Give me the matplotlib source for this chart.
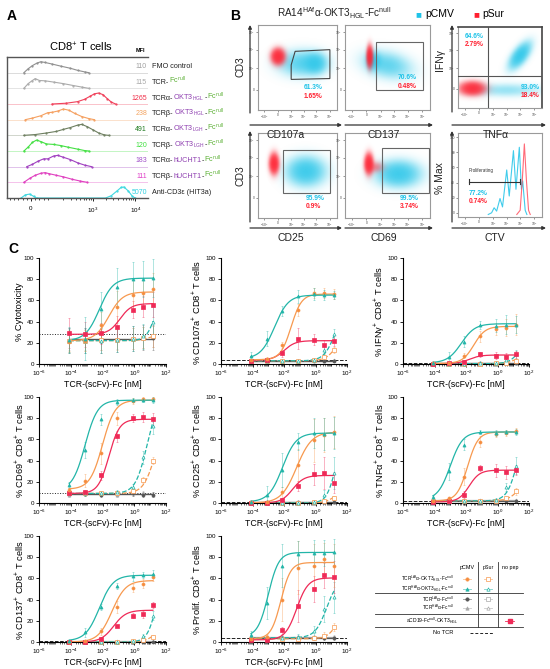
import numpy as np
import matplotlib
matplotlib.use("Agg")
import matplotlib.pyplot as plt
from matplotlib.patches import Rectangle, Polygon, FancyArrowPatch
from matplotlib.colors import to_rgb

plt.rcParams['font.family'] = ['Liberation Sans', 'DejaVu Sans']
plt.rcParams['mathtext.fontset'] = 'custom'
plt.rcParams['mathtext.rm'] = 'Liberation Sans'
plt.rcParams['mathtext.it'] = 'Liberation Sans:italic'
plt.rcParams['mathtext.bf'] = 'Liberation Sans:bold'

# ======================= DATA =======================
# ---- Panel A: histogram rows (x = position along biexponential axis 0..1, h = height in row units)
HIST_FMO    = [(0.12,0),(0.15,0.25),(0.18,0.45),(0.21,0.6),(0.24,0.7),(0.27,0.65),(0.32,0.55),(0.38,0.42),(0.45,0.28),(0.50,0.15),(0.55,0.05),(0.58,0)]
HIST_TCRFC  = [(0.12,0),(0.15,0.3),(0.18,0.5),(0.20,0.62),(0.23,0.5),(0.27,0.48),(0.33,0.4),(0.40,0.3),(0.47,0.18),(0.53,0.08),(0.58,0)]
HIST_A_HGL  = [(0.32,0),(0.42,0.05),(0.50,0.15),(0.55,0.3),(0.59,0.5),(0.62,0.65),(0.65,0.7),(0.68,0.6),(0.71,0.35),(0.74,0.12),(0.77,0)]
HIST_B_HGL  = [(0.13,0),(0.18,0.1),(0.24,0.25),(0.29,0.45),(0.32,0.47),(0.36,0.55),(0.40,0.68),(0.44,0.6),(0.48,0.4),(0.53,0.2),(0.58,0.07),(0.62,0)]
HIST_A_LGH  = [(0.12,0),(0.20,0.05),(0.28,0.15),(0.35,0.25),(0.40,0.38),(0.45,0.5),(0.50,0.65),(0.53,0.7),(0.57,0.55),(0.61,0.35),(0.65,0.15),(0.69,0.03),(0.72,0)]
HIST_B_LGH  = [(0.12,0),(0.15,0.25),(0.18,0.55),(0.21,0.7),(0.24,0.6),(0.28,0.45),(0.33,0.42),(0.38,0.35),(0.43,0.25),(0.50,0.12),(0.55,0.03),(0.58,0)]
HIST_A_UCH  = [(0.14,0),(0.18,0.15),(0.22,0.35),(0.26,0.5),(0.29,0.5),(0.33,0.68),(0.36,0.72),(0.40,0.6),(0.45,0.45),(0.50,0.25),(0.55,0.1),(0.60,0)]
HIST_B_UCH  = [(0.12,0),(0.16,0.25),(0.20,0.45),(0.24,0.58),(0.27,0.62),(0.30,0.55),(0.35,0.45),(0.40,0.35),(0.46,0.2),(0.52,0.08),(0.57,0)]
HIST_CD3E   = [(0.10,0),(0.13,0.2),(0.16,0.25),(0.19,0.1),(0.21,0),(0.70,0),(0.74,0.15),(0.78,0.45),(0.81,0.68),(0.83,0.7),(0.86,0.45),(0.89,0.1),(0.91,0)]
A_HISTS = [HIST_FMO, HIST_TCRFC, HIST_A_HGL, HIST_B_HGL, HIST_A_LGH, HIST_B_LGH, HIST_A_UCH, HIST_B_UCH, HIST_CD3E]
A_MFI = [110, 115, 1265, 238, 491, 120, 183, 111, 5070]
A_LINE_COLORS = ['#909090', '#ababab', '#f0405a', '#f5a060', '#6e7f60', '#44e044', '#a040c0', '#e040c0', '#40d8e0']
A_MFI_COLORS = ['#a0a0a0', '#a8a8a8', '#f0304a', '#f4a460', '#1e7b1e', '#40e040', '#a050c8', '#e040c8', '#30d0e0']
K, PUR, GRN = '#222222', '#8e3fb0', '#5bb033'
FCN = 'Fc$^{\\mathrm{null}}$'
A_LABELS = [
    [('FMO control', K)],
    [('TCR-', K), (FCN, GRN)],
    [('TCRα-', K), ('OKT3$_{\\mathrm{HGL}}$', PUR), ('-', K), (FCN, GRN)],
    [('TCRβ-', K), ('OKT3$_{\\mathrm{HGL}}$', PUR), ('-', K), (FCN, GRN)],
    [('TCRα-', K), ('OKT3$_{\\mathrm{LGH}}$', PUR), ('-', K), (FCN, GRN)],
    [('TCRβ-', K), ('OKT3$_{\\mathrm{LGH}}$', PUR), ('-', K), (FCN, GRN)],
    [('TCRα-', K), ('hUCHT1', PUR), ('-', K), (FCN, GRN)],
    [('TCRβ-', K), ('hUCHT1', PUR), ('-', K), (FCN, GRN)],
    [('Anti-CD3ε (HIT3a)', K)],
]

# ---- Panel B: flow clouds (cx, cy, sx, sy, angle_deg, weight) in plot fractions
B1_CYAN = [(0.55,0.55,0.17,0.09,0,0.55),(0.72,0.55,0.08,0.07,0,0.7)]
B1_RED  = [(0.25,0.63,0.05,0.055,0,1.0)]
B2_CYAN = [(0.50,0.53,0.17,0.09,-12,0.5),(0.34,0.58,0.05,0.06,0,0.6)]
B2_RED  = [(0.29,0.63,0.022,0.075,0,1.0)]
B3_CYAN = [(0.74,0.65,0.11,0.05,55,1.0),(0.58,0.22,0.25,0.05,0,0.25)]
B3_RED  = [(0.17,0.24,0.09,0.05,0,1.0)]
B4_CYAN = [(0.60,0.55,0.14,0.10,0,0.85)]
B4_RED  = [(0.20,0.64,0.035,0.07,0,1.0)]
B5_CYAN = [(0.63,0.52,0.15,0.09,0,0.85)]
B5_RED  = [(0.28,0.64,0.03,0.07,0,1.0),(0.36,0.60,0.06,0.04,0,0.2)]
B_CTV_CYAN = [(0.36,0),(0.40,0.02),(0.43,0.08),(0.46,0.04),(0.50,0.19),(0.53,0.09),(0.58,0.53),(0.61,0.22),(0.66,0.76),(0.69,0.3),(0.73,0.8),(0.755,0.3),(0.77,0.4),(0.80,0.05),(0.82,0)]
B_CTV_RED  = [(0.70,0),(0.74,0.05),(0.765,0.4),(0.79,0.84),(0.815,0.4),(0.84,0.05),(0.86,0)]
B_PCT = [('61.3%','1.65%'),('70.6%','0.48%'),('64.6%','2.79%'),('95.9%','0.9%'),('99.5%','3.74%'),('77.2%','0.74%')]
B_Q3_LOWER = ('93.0%', '18.4%')

# ---- Panel C: dose-response
CONC_NM = [8e-5, 8e-4, 8e-3, 8e-2, 0.8, 3.5, 15]
# series order: HAf-OKT3 pCMV, LAf-OKT3 pCMV, aCD19 no pep, HAf-OKT3 pSur, LAf-OKT3 pSur, LAf-Fc, HAf-Fc
CYTO = [[23,24,52,73,80,80,81],[21,22,37,54,65,67,71],[29,28,29,35,51,54,56],[22,22,22,23,24,26,40],[22,22,23,23,24,25,26],[22,22,22,23,24,25,25],[23,23,23,24,24,25,26]]
CYTO_ERR = [[12,20,16,18,16,17,18],[10,10,12,15,14,14,15],[14,12,10,10,8,10,12],[12,12,12,12,12,12,14],[10,10,10,10,10,10,10],[12,12,12,12,12,12,12],[10,10,10,10,10,10,10]]
CYTO_FIT = [[22,81,-2.2,1.0],[22,68,-1.6,1.0],[28,57,-0.9,1.2],[22,80,1.4,1.5],[22,35,1.5,1.0]]
CD107 = [[8,24,50,64,66,65,65],[4,5,18,51,67,67,66],[3,4,10,24,23,18,22],[3,3,3,3,4,13,28],[3,3,3,3,4,7,13],[3,3,3,3,3,3,3],[3,3,3,3,3.5,3,3.5]]
CD107_ERR = [[3,7,5,6,6,5,4],[1,2,3,6,5,5,5],[1,1,3,10,5,5,5],[1,1,1,1,2,4,5],[1,1,1,1,1,3,3],[1,1,1,1,1,1,1],[1,1,1,1,1,1,1]]
CD107_FIT = [[5,65,-2.6,1.0],[4,66,-1.55,1.3],[3.5,22,-2.0,1.2],[3,60,1.3,1.2],[3,40,1.5,1.2]]
IFNG = [[1,7,21,37,36,37,37],[0.5,1,8,26,33,34,37],[0.3,0.5,2,9,8,7,9],[0.3,0.3,0.3,0.5,1,4,9],[0.3,0.3,0.3,0.3,0.5,1,3],[0.5,0.5,0.5,0.5,0.5,0.5,0.5],[0.8,0.8,0.8,0.8,0.8,0.8,0.8]]
IFNG_ERR = [[1,4,5,4,6,9,8],[0.5,1,2,5,6,8,10],[0.3,0.5,1,2,3,3,3],[0.3,0.3,0.3,0.5,1,3,4],[0.3,0.3,0.3,0.3,0.5,1,2],[0.3]*7,[0.3]*7]
IFNG_FIT = [[1,38,-2.3,1.0],[0.5,35.5,-1.5,1.2],[0.3,8.5,-1.8,1.2],[0.3,30,1.5,1.3],[0.3,15,1.5,1.2]]
CD69 = [[17,50,79,95,97,97,97],[12,21,47,80,96,98,98],[9,10,26,63,80,81,79],[9,9,9,10,15,43,73],[9,9,9,9,11,22,40],[9,9,8,9,9,8,8],[8,9,9,8,9,9,8]]
CD69_ERR = [[3,8,5,3,2,2,3],[2,6,10,6,3,2,2],[2,2,4,5,4,5,6],[2,2,2,2,3,6,8],[2,2,2,2,2,3,3],[2,2,2,2,2,2,2],[2,2,2,2,2,2,2]]
CD69_FIT = [[12,97,-3.1,1.1],[13,97,-2.0,1.1],[9,79,-1.6,1.3],[9,100,0.8,1.2],[9,80,1.3,1.2]]
CD25 = [[1,8,31,58,66,65,66],[0.5,0.5,10,36,59,64,67],[0.3,0.3,3,16,27,28,19],[0.3,0.3,0.3,0.3,1,8,28],[0.3,0.3,0.3,0.3,0.5,2,5],[0.5]*7,[0.5]*7]
CD25_ERR = [[1,8,16,8,14,15,15],[0.5,1,5,15,20,16,15],[0.5,0.5,2,5,10,15,10],[0.5,0.5,0.5,0.5,1,4,15],[0.5,0.5,0.5,0.5,0.5,1,2],[0.5]*7,[0.5]*7]
CD25_FIT = [[1,66,-2.1,1.0],[0,67,-1.2,0.9],[0,26,-1.45,1.2],[0,70,1.3,1.5],[0,20,1.5,1.2]]
TNFA = [[6,30,55,67,66,67,67],[2,5,25,58,65,66,68],[1,2,8,33,31,29,31],[2,2,2,2,3,15,35],[2,2,2,2,2,5,11],[2]*7,[2.5]*7]
TNFA_ERR = [[2,8,5,2,3,2,3],[1,1,8,5,3,3,3],[0.5,1,3,3,6,6,5],[1,1,1,1,2,4,8],[1,1,1,1,1,2,3],[1]*7,[1]*7]
TNFA_FIT = [[3,67,-3.0,1.1],[2,67,-1.9,1.3],[1,31,-1.8,1.3],[2,80,1.3,1.3],[2,30,1.5,1.2]]
CD137 = [[1,9,33,53,62,63,64],[0.3,1,10,33,51,55,61],[0.3,0.3,3,15,25,26,35],[0.3,0.3,0.3,0.3,1,6,25],[0.3,0.3,0.3,0.3,0.5,2,5],[0.3]*7,[0.5]*7]
CD137_ERR = [[0.5,4,3,3,4,3,4],[0.5,1,3,6,4,4,3],[0.5,0.5,1,1,2,3,3],[0.5,0.5,0.5,0.5,0.5,2,4],[0.5,0.5,0.5,0.5,0.5,1,1.5],[0.3]*7,[0.3]*7]
CD137_FIT = [[1,63,-2.2,1.0],[0,58,-1.4,1.0],[0,30,-1.3,1.1],[0,70,1.4,1.5],[0,20,1.5,1.2]]
PROLIF = [[7,37,72,83,84,84,85],[3,5,40,70,72,78,72],[2,2,11,34,50,63,61],[4,4,4,5,10,31,42],[3,3,3,3,4,6,14],[4]*7,[5]*7]
PROLIF_ERR = [[3,15,20,12,12,12,12],[2,3,20,25,20,15,20],[1,1,3,15,12,12,15],[2,2,2,3,5,12,15],[2,2,2,2,2,3,4],[2]*7,[2]*7]
PROLIF_FIT = [[5,84.5,-3.0,1.3],[3,75,-2.2,1.4],[2,60.5,-1.2,1.2],[4,60,0.7,1.2],[3,40,1.5,1.3]]
NO_TCR = [28, 4, 0.8, 9, 0.8, 2, 0.8, 4]
C_YLABELS = ['% Cytotoxicity', '% CD107a$^{+}$ CD8$^{+}$ T cells', '% IFNγ$^{+}$ CD8$^{+}$ T cells',
             '% CD69$^{+}$ CD8$^{+}$ T cells', '% CD25$^{+}$ CD8$^{+}$ T cells', '% TNFα$^{+}$ CD8$^{+}$ T cells',
             '% CD137$^{+}$ CD8$^{+}$ T cells', '% Prolif. CD8$^{+}$ T cells']
C_XLABEL = 'TCR-(scFv)-Fc [nM]'

# ======================= FIGURE =======================
W, H = 550, 669
fig = plt.figure(figsize=(5.5, 6.69), dpi=100)
fig.patch.set_facecolor('white')
renderer = fig.canvas.get_renderer()

def ax_px(x0, y0, x1, y1):
    return fig.add_axes([x0 / W, 1 - y1 / H, (x1 - x0) / W, (y1 - y0) / H])

def ftext(x, y, s, **kw):
    return fig.text(x / W, 1 - y / H, s, **kw)

def farrow(x0, y0, x1, y1):
    fig.add_artist(FancyArrowPatch((x0 / W, 1 - y0 / H), (x1 / W, 1 - y1 / H), transform=fig.transFigure,
                                   arrowstyle='-|>', mutation_scale=5, lw=0.9, color='#333333',
                                   shrinkA=0, shrinkB=0))

def rainbow(x, y, parts, size):
    for s, c in parts:
        t = ftext(x, y, s, color=c, fontsize=size, va='baseline', ha='left')
        x += t.get_window_extent(renderer).width

TEAL, ORANGE, RED = '#22b5a8', '#f7994f', '#ef2a57'
DGRAY, LGRAY = '#555555', '#a8a8a8'
CYAN_B, RED_B = '#1fc3e8', '#ff1f2f'

# panel letters
for lx, ly, lt in [(7, 20, 'A'), (230, 20, 'B'), (8, 253, 'C')]:
    ftext(lx, ly, lt, fontsize=10, fontweight='bold', va='baseline')

# ---------------- Panel A ----------------
axA = ax_px(7, 57, 148, 198)
axA.set_xlim(0, 1)
axA.set_ylim(0, 9)
axA.spines['right'].set_visible(False)
for sp in ['left', 'top', 'bottom']:
    axA.spines[sp].set_color('#555555')
    axA.spines[sp].set_linewidth(1.0)
nrows = len(A_HISTS)
for r, pts in enumerate(A_HISTS):
    base = nrows - 1 - r
    xs = [p[0] for p in pts]
    hs = [base + p[1] for p in pts]
    if base > 0:
        axA.plot([0, 1], [base, base], color=A_LINE_COLORS[r], lw=0.5, alpha=0.45)
    axA.plot(xs, hs, color=A_LINE_COLORS[r], lw=0.8, marker='.', ms=1.2)
axA.set_yticks([])
axA.set_xticks([0.17, 0.61, 0.91])
axA.set_xticklabels(['0', '$10^3$', '$10^4$'], fontsize=4.5)
minor = [0.02, 0.05, 0.08, 0.11, 0.14, 0.2, 0.23, 0.26, 0.29]
minor += [0.31 + 0.3 * np.log10(k) for k in range(2, 10)] + [0.61 + 0.3 * np.log10(k) for k in range(2, 10)]
axA.set_xticks(minor, minor=True)
axA.tick_params(axis='x', which='major', length=2.5, width=0.6, pad=3)
axA.tick_params(axis='x', which='minor', length=1.5, width=0.5)
ftext(81, 52, 'CD8$^{+}$ T cells', fontsize=8, ha='center', va='baseline')
ftext(140, 52, 'MFI', fontsize=4, fontweight='bold', ha='center', va='baseline')
rowh = (198 - 57) / nrows
for r in range(nrows):
    yb = 57 + r * rowh + rowh * 0.72
    ftext(147, yb, str(A_MFI[r]), color=A_MFI_COLORS[r], fontsize=5, ha='right', va='baseline')
    rainbow(152, yb, A_LABELS[r], 5.2)

# ---------------- Panel B ----------------
rainbow(277, 17, [('RA14$^{\\mathrm{HAf}}$α-OKT3$_{\\mathrm{HGL}}$-Fc$^{\\mathrm{null}}$', K)], 7.2)
ftext(418, 17, '■', color=CYAN_B, fontsize=7, va='baseline', ha='center')
ftext(425, 17, 'pCMV', fontsize=7.5, va='baseline')
ftext(476, 17, '■', color=RED_B, fontsize=7, va='baseline', ha='center')
ftext(482, 17, 'pSur', fontsize=7.5, va='baseline')

def density(ax, blobs, color, k=2.6, zorder=1):
    n = 180
    g = np.linspace(0, 1, n)
    X, Y = np.meshgrid(g, g)
    D = np.zeros_like(X)
    for cx, cy, sx, sy, ang, w in blobs:
        a = np.deg2rad(ang)
        u = (X - cx) * np.cos(a) + (Y - cy) * np.sin(a)
        v = -(X - cx) * np.sin(a) + (Y - cy) * np.cos(a)
        D += w * np.exp(-0.5 * ((u / sx) ** 2 + (v / sy) ** 2))
    rgba = np.zeros((n, n, 4))
    rgba[..., :3] = to_rgb(color)
    rgba[..., 3] = np.clip(1 - np.exp(-k * D), 0, 1) * 0.95
    ax.imshow(rgba, extent=(0, 1, 0, 1), origin='lower', interpolation='bilinear', aspect='auto', zorder=zorder)

def flow_ax(x0, y0, x1, y1, hist=False):
    ax = ax_px(x0, y0, x1, y1)
    ax.set_xlim(0, 1)
    ax.set_ylim(0, 1)
    for sp in ax.spines.values():
        sp.set_color('#9a9a9a')
        sp.set_linewidth(0.8)
    ax.set_xticks([0.08, 0.25, 0.42, 0.58, 0.74, 0.91])
    ax.set_xticklabels(['$-10^3$', '0', '$10^3$', '$10^4$', '$10^5$', '$10^6$'], fontsize=2.3)
    if hist:
        ax.set_yticks([0.05, 0.23, 0.41, 0.59, 0.77, 0.95])
        ax.set_yticklabels(['0', '20', '40', '60', '80', '100'], fontsize=2.3)
    else:
        ax.set_yticks([0.24, 0.49, 0.71, 0.92])
        ax.set_yticklabels(['0', '$10^3$', '$10^4$', '$10^5$'], fontsize=2.3)
    ax.tick_params(length=1.2, width=0.4, pad=1, colors='#444444')
    return ax

def pct(ax, x, y, pair, ha='left'):
    ax.text(x, y, pair[0], color=CYAN_B, fontsize=4.8, fontweight='bold', ha=ha, va='center', transform=ax.transAxes, zorder=5)
    ax.text(x, y - 0.1, pair[1], color=RED_B, fontsize=4.8, fontweight='bold', ha=ha, va='center', transform=ax.transAxes, zorder=5)

b1 = flow_ax(258, 25, 337, 110)
density(b1, B1_CYAN, CYAN_B)
density(b1, B1_RED, RED_B, k=3.5, zorder=2)
b1.add_patch(Polygon([(0.47, 0.69), (0.91, 0.71), (0.91, 0.37), (0.42, 0.36), (0.42, 0.53)], closed=True,
                     fill=False, ec='#444444', lw=0.8, zorder=4))
pct(b1, 0.58, 0.26, B_PCT[0])

b2 = flow_ax(345, 25, 430, 110)
density(b2, B2_CYAN, CYAN_B)
density(b2, B2_RED, RED_B, k=3.5, zorder=2)
b2.add_patch(Rectangle((0.37, 0.24), 0.55, 0.56, fill=False, ec='#666666', lw=0.8, zorder=4))
pct(b2, 0.62, 0.38, B_PCT[1])

b3 = flow_ax(458, 27, 542, 108)
density(b3, B3_CYAN, CYAN_B)
density(b3, B3_RED, RED_B, k=3.0, zorder=2)
b3.plot([0.36, 0.36], [0, 1], color='#555555', lw=0.8, zorder=4)
b3.plot([0, 1], [0.39, 0.39], color='#555555', lw=0.8, zorder=4)
for sp in ['top', 'right']:
    b3.spines[sp].set_color('#444444')
    b3.spines[sp].set_linewidth(1.2)
pct(b3, 0.08, 0.88, B_PCT[2])
pct(b3, 0.97, 0.25, B_Q3_LOWER, ha='right')

b4 = flow_ax(258, 133, 337, 218)
density(b4, B4_CYAN, CYAN_B)
density(b4, B4_RED, RED_B, k=3.5, zorder=2)
b4.add_patch(Rectangle((0.32, 0.29), 0.59, 0.51, fill=False, ec='#666666', lw=0.8, zorder=4))
pct(b4, 0.6, 0.23, B_PCT[3])

b5 = flow_ax(345, 133, 430, 218)
density(b5, B5_CYAN, CYAN_B)
density(b5, B5_RED, RED_B, k=3.5, zorder=2)
b5.add_patch(Rectangle((0.44, 0.29), 0.55, 0.53, fill=False, ec='#666666', lw=0.8, zorder=4))
pct(b5, 0.64, 0.23, B_PCT[4])

b6 = flow_ax(458, 133, 542, 217, hist=True)
b6.plot([p[0] for p in B_CTV_CYAN], [0.03 + p[1] for p in B_CTV_CYAN], color=CYAN_B, lw=0.8, alpha=0.85)
b6.plot([p[0] for p in B_CTV_RED], [0.03 + p[1] for p in B_CTV_RED], color='#ff5060', lw=0.8, alpha=0.85)
b6.plot([0.125, 0.74], [0.42, 0.42], color='#333333', lw=0.8)
b6.plot([0.125, 0.125], [0.39, 0.45], color='#333333', lw=0.8)
b6.plot([0.74, 0.74], [0.39, 0.45], color='#333333', lw=0.8)
b6.text(0.13, 0.53, 'Proliferating', fontsize=3.3, color='#333333', transform=b6.transAxes)
pct(b6, 0.13, 0.28, B_PCT[5])

# arrows + axis labels for B
farrow(250, 113, 250, 25); farrow(250, 125, 342, 125)
farrow(345, 125, 433, 125)
farrow(452, 112, 452, 25); farrow(452, 125, 546, 125)
farrow(250, 222, 250, 131); farrow(250, 228, 342, 228)
farrow(345, 228, 433, 228)
farrow(452, 222, 452, 131); farrow(452, 228, 546, 228)
for (x, y, s, rot) in [(240, 67, 'CD3', 90), (240, 176, 'CD3', 90), (440, 60, 'IFNγ', 90), (440, 178, '% Max', 90),
                       (286, 135, 'CD107a', 0), (384, 135, 'CD137', 0), (496, 135, 'TNFα', 0),
                       (291, 238, 'CD25', 0), (384, 238, 'CD69', 0), (495, 238, 'CTV', 0)]:
    ftext(x, y, s, fontsize=7.5, rotation=rot, ha='center', va='center', color='#222222')

# ---------------- Panel C ----------------
cols = [(39, 166), (221, 347), (403, 529)]
rows = [(258, 364), (397, 503), (536, 642)]
ylabel_x = [20, 197, 380]
panels = [(CYTO, CYTO_ERR, CYTO_FIT), (CD107, CD107_ERR, CD107_FIT), (IFNG, IFNG_ERR, IFNG_FIT),
          (CD69, CD69_ERR, CD69_FIT), (CD25, CD25_ERR, CD25_FIT), (TNFA, TNFA_ERR, TNFA_FIT),
          (CD137, CD137_ERR, CD137_FIT), (PROLIF, PROLIF_ERR, PROLIF_FIT)]
styles = [
    dict(color=TEAL, marker='^', mfc=TEAL, ls='-'),
    dict(color=ORANGE, marker='o', mfc='#f58a3c', ls='-'),
    dict(color=RED, marker='s', mfc=RED, ls='-'),
    dict(color=TEAL, marker='^', mfc='white', ls='--'),
    dict(color=ORANGE, marker='s', mfc='white', ls='--'),
    dict(color=DGRAY, marker='o', mfc=DGRAY, ls='-'),
    dict(color=LGRAY, marker='^', mfc=LGRAY, ls='-'),
]
draw_order = [6, 5, 4, 3, 2, 1, 0]
conc = np.array(CONC_NM)
xf = np.logspace(np.log10(conc.min()), np.log10(conc.max()), 200)

for i, (vals, errs, fits) in enumerate(panels):
    r, c = divmod(i, 3)
    ax = ax_px(cols[c][0], rows[r][0], cols[c][1], rows[r][1])
    ax.set_xscale('log')
    ax.set_xlim(1e-6, 1e2)
    ax.set_ylim(0, 100)
    for sp in ['top', 'right']:
        ax.spines[sp].set_visible(False)
    for sp in ['left', 'bottom']:
        ax.spines[sp].set_linewidth(0.8)
    ax.set_xticks([1e-6, 1e-4, 1e-2, 1e0, 1e2])
    ax.set_xticklabels(['$10^{-6}$', '$10^{-4}$', '$10^{-2}$', '$10^{0}$', '$10^{2}$'])
    ax.xaxis.set_minor_locator(matplotlib.ticker.LogLocator(base=10, subs=np.arange(1, 10), numticks=30))
    ax.xaxis.set_minor_formatter(matplotlib.ticker.NullFormatter())
    ax.set_yticks([0, 20, 40, 60, 80, 100])
    ax.tick_params(axis='both', which='major', labelsize=4.5, length=2, width=0.6, pad=1.5)
    ax.tick_params(axis='x', which='minor', length=1.2, width=0.4)
    ax.set_xlabel(C_XLABEL, fontsize=6.3, labelpad=1)
    ftext(ylabel_x[c], (rows[r][0] + rows[r][1]) / 2 + 1, C_YLABELS[i], fontsize=6.7, rotation=90, ha='center', va='center')
    ls_no = ':' if i in (0, 3) else '--'
    ax.plot([1e-6, 1e2], [NO_TCR[i], NO_TCR[i]], color='#222222', lw=0.7, ls=ls_no, zorder=1)
    for s in draw_order:
        st = styles[s]
        y = np.array(vals[s], dtype=float)
        e = np.array(errs[s], dtype=float)
        ax.errorbar(conc, y, yerr=e, fmt='none', ecolor=st['color'], elinewidth=0.5, capsize=1.0,
                    capthick=0.5, alpha=0.5, zorder=2, clip_on=False)
        if s < 5:
            b, t, ec, h = fits[s]
            yf = b + (t - b) / (1 + 10 ** (h * (ec - np.log10(xf))))
            ax.plot(xf, yf, color=st['color'], lw=0.9, ls=st['ls'], zorder=3)
        else:
            ax.plot([conc.min(), conc.max()], [y.mean(), y.mean()], color=st['color'], lw=0.9, zorder=3)
        ax.plot(conc, y, ls='none', marker=st['marker'], ms=2.2, mfc=st['mfc'], mec=st['color'],
                mew=0.5, zorder=4, clip_on=False)

# ---------------- Panel C legend ----------------
lg = ax_px(375, 555, 550, 645)
lg.set_xlim(375, 550)
lg.set_ylim(645, 555)
lg.axis('off')
fs = 3.4
lg.text(467, 568, 'pCMV', fontsize=3.9, ha='center', va='center')
lg.text(488, 568, 'pSur', fontsize=3.9, ha='center', va='center')
lg.text(510, 568, 'no pep', fontsize=3.9, ha='center', va='center')
LEG_ROWS = [('TCR$^{\\mathrm{LAf}}$α-OKT3$_{\\mathrm{HGL}}$-Fc$^{\\mathrm{null}}$', 578.5, 1, 4),
            ('TCR$^{\\mathrm{HAf}}$α-OKT3$_{\\mathrm{HGL}}$-Fc$^{\\mathrm{null}}$', 588.5, 0, 3),
            ('TCR$^{\\mathrm{LAf}}$α-Fc$^{\\mathrm{null}}$', 599, 5, None),
            ('TCR$^{\\mathrm{HAf}}$α-Fc$^{\\mathrm{null}}$', 607.5, 6, None)]
for txt, y, sp, ss in LEG_ROWS:
    lg.text(454, y, txt, fontsize=fs, ha='right', va='center')
    st = styles[sp]
    lg.plot([463, 471], [y, y], color=st['color'], lw=0.6, alpha=0.6)
    lg.plot([467], [y], marker=st['marker'], ms=2.4, mfc=st['mfc'], mec=st['color'], mew=0.5, ls='none')
    if ss is not None:
        st2 = styles[ss]
        lg.plot([484, 492], [y, y], color=st2['color'], lw=0.6, alpha=0.6)
        lg.plot([488], [y], marker=st2['marker'], ms=2.4, mfc='white', mec=st2['color'], mew=0.5, ls='none')
    else:
        lg.plot([484, 492], [y, y], color=LGRAY, lw=0.6, alpha=0.6)
        lg.plot([488], [y], marker='s' if sp == 5 else '^', ms=2.4, mfc='white', mec=LGRAY, mew=0.5, ls='none')
lg.text(458, 621, 'aCD19-Fc$^{\\mathrm{null}}$-OKT3$_{\\mathrm{HGL}}$', fontsize=fs + 0.2, ha='right', va='center')
lg.plot([505, 514], [621, 621], color=RED, lw=0.6)
lg.plot([509.5], [621], marker='s', ms=2.4, mfc=RED, mec=RED, ls='none')
lg.text(453, 633, 'No TCR', fontsize=4.1, ha='right', va='center')
lg.plot([470, 493], [633, 633], color='#222222', lw=0.7, ls=(0, (3, 2)))
for yl in [593, 614, 627]:
    lg.plot([375, 523], [yl, yl], color='#333333', lw=0.6)
for xl in [478, 498]:
    lg.plot([xl, xl], [562, 627], color='#333333', lw=0.6)

fig.savefig('out.png', dpi=100)
